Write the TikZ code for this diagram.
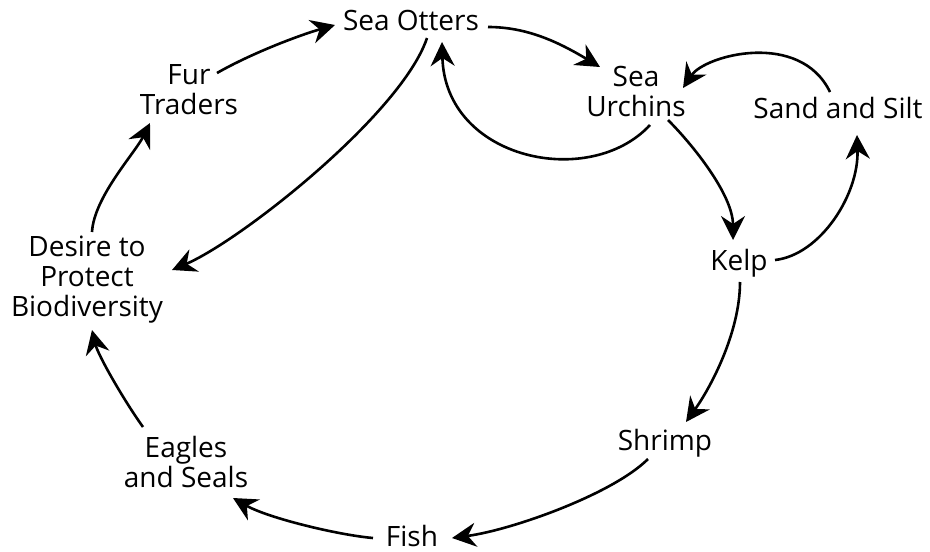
\documentclass[tikz,border=0pt]{standalone}
\usepackage{fontspec}
\setmainfont{Open Sans}
\usetikzlibrary{arrows.meta}
\begin{document}
\begin{tikzpicture}[x=1pt,y=-1pt,
  lbl/.style={inner sep=0pt, align=center, font=\fontsize{28}{30}\selectfont},
  conn/.style={line width=2.6pt, -{Stealth[length=24pt,width=24pt,inset=8pt]}}]
\useasboundingbox (0,0) rectangle (930,552);
% nodes
\node[lbl, anchor=base] (otters) at (411,30) {Sea Otters};
\node[lbl] (urchins) at (636,91) {Sea\\Urchins};
\node[lbl, anchor=base] (sand) at (838,118) {Sand and Silt};
\node[lbl, anchor=base] (kelp) at (739,270) {Kelp};
\node[lbl, anchor=base] (shrimp) at (665,450) {Shrimp};
\node[lbl, anchor=base] (fish) at (412,546) {Fish};
\node[lbl] (eagles) at (186,462) {Eagles\\and Seals};
\node[lbl] (desire) at (87,280) {Desire to\\Protect\\Biodiversity};
\node[lbl] (fur) at (189,90) {Fur\\Traders};
% connectors
\draw[conn] ([shift={(28,-17)}]fur.center) .. controls +(35,-20) and +(-35,10) .. ([shift={(-76,-5)}]otters.base);
\draw[conn] ([shift={(77,-3)}]otters.base) .. controls +(40,0) and +(-40,-24) .. ([shift={(-36,-24)}]urchins.center);
\draw[conn] ([shift={(16,8)}]otters.base) .. controls +(-25,75) and +(70,-30) .. ([shift={(85,-10)}]desire.center);
\draw[conn] ([shift={(14,34)}]urchins.center) .. controls +(-60,65) and +(3,118) .. ([shift={(31,12)}]otters.base);
\draw[conn] ([shift={(-8,-26)}]sand.base) .. controls +(-30,-62) and +(22,-33) .. ([shift={(47,-3)}]urchins.center);
\draw[conn] ([shift={(32,29)}]urchins.center) .. controls +(25,25) and +(0,-45) .. ([shift={(-6,-30)}]kelp.base);
\draw[conn] ([shift={(36,-10)}]kelp.base) .. controls +(45,-5) and +(2,60) .. ([shift={(19,17)}]sand.base);
\draw[conn] ([shift={(1,12)}]kelp.base) .. controls +(0,50) and +(25,-35) .. ([shift={(21,-28)}]shrimp.base);
\draw[conn] ([shift={(-17,9)}]shrimp.base) .. controls +(-35,35) and +(60,-8) .. ([shift={(40,-8)}]fish.base);
\draw[conn] ([shift={(-39,-8)}]fish.base) .. controls +(-35,-3) and +(35,20) .. ([shift={(47,36)}]eagles.center);
\draw[conn] ([shift={(-43,-35)}]eagles.center) .. controls +(-20,-28) and +(6,25) .. ([shift={(5,50)}]desire.center);
\draw[conn] ([shift={(5,-48)}]desire.center) .. controls +(2,-35) and +(-15,30) .. ([shift={(-39,33)}]fur.center);
\end{tikzpicture}
\end{document}
